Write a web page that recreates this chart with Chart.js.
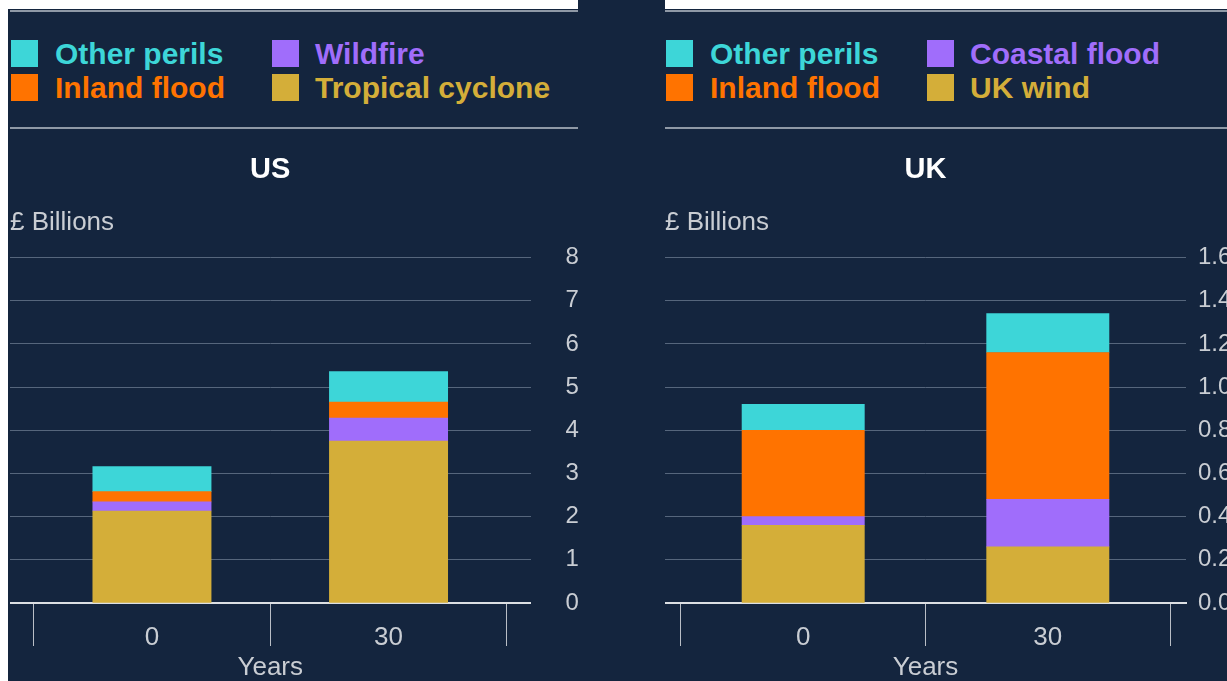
<!DOCTYPE html>
<html>
<head>
<meta charset="utf-8">
<script src="https://cdn.jsdelivr.net/npm/chart.js@4.4.1/dist/chart.umd.min.js"></script>
<style>
html,body{margin:0;padding:0;width:1227px;height:681px;overflow:hidden;background:#ffffff;font-family:"Liberation Sans",Arial,sans-serif;}
#bg{position:absolute;left:8px;top:9px;width:1219px;height:672px;background:#14253e;}
#notch{position:absolute;left:578px;top:0;width:87px;height:10px;background:#14253e;}
.sep{position:absolute;height:2px;background:#8f99a6;}
.lbox{position:absolute;width:27px;height:27px;}
.ltxt{position:absolute;height:34px;line-height:34px;font-size:30px;font-weight:bold;white-space:nowrap;}
canvas{position:absolute;top:129px;}
</style>
</head>
<body>
<div id="bg"></div>
<div id="notch"></div>
<div class="sep" style="left:10px;top:10px;width:568px;"></div>
<div class="sep" style="left:665px;top:10px;width:562px;"></div>
<div class="sep" style="left:10px;top:127px;width:568px;"></div>
<div class="sep" style="left:665px;top:127px;width:562px;"></div>
<div id="usLegend"></div>
<div id="ukLegend"></div>
<canvas id="usChart" width="569" height="554" style="left:10px;"></canvas>
<canvas id="ukChart" width="567" height="554" style="left:665px;"></canvas>
<script>
// ---- data ----
const categories = ['0', '30'];

const usTitle = 'US';
const usSeriesNames = ['Tropical cyclone', 'Wildfire', 'Inland flood', 'Other perils'];
const usTropicalCyclone = [2.13, 3.75];
const usWildfire = [0.21, 0.53];
const usInlandFlood = [0.24, 0.37];
const usOtherPerils = [0.58, 0.71];
const usYTicks = [0, 1, 2, 3, 4, 5, 6, 7, 8];

const ukTitle = 'UK';
const ukSeriesNames = ['UK wind', 'Coastal flood', 'Inland flood', 'Other perils'];
const ukWind = [0.36, 0.26];
const ukCoastalFlood = [0.04, 0.22];
const ukInlandFlood = [0.40, 0.68];
const ukOtherPerils = [0.12, 0.18];
const ukYTicks = [0, 0.2, 0.4, 0.6, 0.8, 1.0, 1.2, 1.4, 1.6];

const unitLabel = '£ Billions';
const xAxisTitle = 'Years';
// legend display order (indices into series arrays)
const legendOrder = [3, 1, 2, 0];

// ---- styles ----
const seriesColors = ['#d4ae39', '#a06dfb', '#ff7300', '#3dd6d8'];
const FONT = '"Liberation Sans", Arial, sans-serif';
const textGrey = '#c9cdd3';
const gridGrey = '#56667c';

Chart.defaults.font.family = FONT;

function buildLegend(elId, panelX, names) {
  const el = document.getElementById(elId);
  legendOrder.forEach((si, i) => {
    const col = i % 2, row = Math.floor(i / 2);
    const box = document.createElement('div');
    box.className = 'lbox';
    box.style.left = (panelX + (col ? 262 : 1)) + 'px';
    box.style.top = (row ? 74 : 40) + 'px';
    box.style.background = seriesColors[si];
    el.appendChild(box);
    const t = document.createElement('div');
    t.className = 'ltxt';
    t.textContent = names[si];
    t.style.color = seriesColors[si];
    t.style.left = (panelX + (col ? 305 : 45)) + 'px';
    t.style.top = ((row ? 87.5 : 53.5) - 17) + 'px';
    el.appendChild(t);
  });
}

function makeChart(id, title, names, seriesArrays, yTicks, yFmt, yPad, yAxisWidth, xMin, xMax) {
  const xTickValues = [];
  for (let i = 0; i <= categories.length; i++) {
    xTickValues.push(i - 0.5);
    if (i < categories.length) xTickValues.push(i);
  }
  const datasets = names.map((n, i) => ({
    label: n,
    data: seriesArrays[i].map((v, j) => ({ x: j, y: v })),
    backgroundColor: seriesColors[i],
    borderWidth: 0,
    categoryPercentage: 1,
    barPercentage: 1
  }));
  return new Chart(document.getElementById(id), {
    type: 'bar',
    data: { datasets },
    options: {
      responsive: false,
      animation: false,
      devicePixelRatio: 1,
      layout: { padding: 0 },
      plugins: {
        legend: { display: false },
        tooltip: { enabled: false },
        title: {
          display: true, text: title, color: '#ffffff', fullSize: false,
          font: { family: FONT, size: 29, weight: 'bold' },
          padding: { top: 24, bottom: 0 }
        },
        subtitle: {
          display: true, text: unitLabel, color: textGrey, align: 'start', fullSize: false,
          font: { family: FONT, size: 26, weight: 'normal' },
          padding: { top: 19, bottom: 19.5 }
        }
      },
      scales: {
        x: {
          type: 'linear', min: xMin, max: xMax, offset: false, stacked: true,
          afterBuildTicks: s => { s.ticks = xTickValues.map(v => ({ value: v })); },
          afterFit: s => { s.height = 80; s.paddingLeft = 0; s.paddingRight = 0; },
          ticks: {
            autoSkip: false, maxRotation: 0, padding: -23.5, color: textGrey,
            font: { family: FONT, size: 26 },
            callback: v => Number.isInteger(v) ? categories[v] : ''
          },
          grid: {
            display: true, drawOnChartArea: false, drawTicks: true, offset: false,
            tickLength: 43, tickWidth: 1,
            tickColor: ctx => (ctx.tick && Number.isInteger(ctx.tick.value)) ? 'rgba(0,0,0,0)' : '#b9bec6'
          },
          border: { display: true, color: '#dcdfe3', width: 2 },
          title: {
            display: true, text: xAxisTitle, color: textGrey,
            font: { family: FONT, size: 26 }, padding: { top: 0, bottom: 0 }
          }
        },
        y: {
          position: 'right', stacked: true,
          min: yTicks[0], max: yTicks[yTicks.length - 1],
          afterBuildTicks: s => { s.ticks = yTicks.map(v => ({ value: v })); },
          afterFit: s => { s.width = yAxisWidth; },
          ticks: {
            color: textGrey, padding: yPad, crossAlign: 'near',
            font: { family: FONT, size: 24 },
            callback: v => yFmt(v)
          },
          grid: {
            drawTicks: false, lineWidth: 1,
            color: ctx => (ctx.tick && ctx.tick.value === 0) ? 'rgba(0,0,0,0)' : gridGrey
          },
          border: { display: false }
        }
      }
    }
  });
}

buildLegend('usLegend', 10, usSeriesNames);
buildLegend('ukLegend', 665, ukSeriesNames);

makeChart('usChart', usTitle, usSeriesNames,
  [usTropicalCyclone, usWildfire, usInlandFlood, usOtherPerils],
  usYTicks, v => String(v), 35, 48.5, -0.6, 1.6);

makeChart('ukChart', ukTitle, ukSeriesNames,
  [ukWind, ukCoastalFlood, ukInlandFlood, ukOtherPerils],
  ukYTicks, v => Number(v).toFixed(1), 12, 46, -0.565, 1.565);
</script>
</body>
</html>
